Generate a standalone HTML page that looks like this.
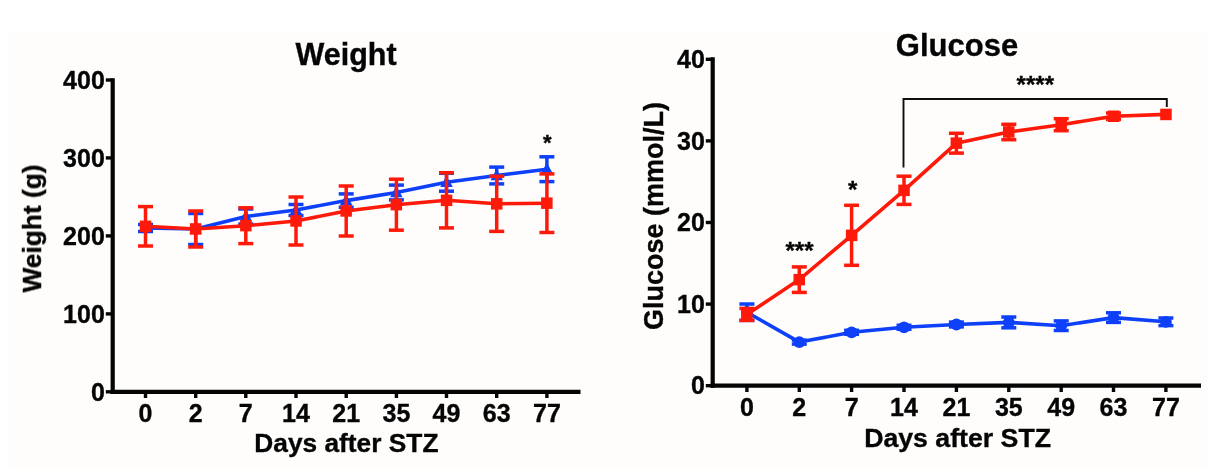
<!DOCTYPE html>
<html lang="en"><head><meta charset="utf-8"><title>Weight and Glucose after STZ</title>
<style>html,body{margin:0;padding:0;background:#fff;}body{width:1224px;height:470px;overflow:hidden;position:relative;}svg{position:absolute;left:0;top:0;display:block;}#ink{filter:blur(0.55px);}text{font-family:"Liberation Sans", Arial, Helvetica, sans-serif;font-weight:bold;fill:#050505;stroke:#050505;stroke-width:0.35px;}</style></head><body>
<svg width="1224" height="470" viewBox="0 0 1224 470">
<rect x="8" y="32" width="1200" height="438" fill="#fefdfb"/>
<g id="ink">
<g id="weight">
<line x1="112.7" y1="78.2" x2="112.7" y2="393.90000000000003" stroke="#050505" stroke-width="4.2"/>
<line x1="110.60000000000001" y1="391.8" x2="580.5" y2="391.8" stroke="#050505" stroke-width="4.2"/>
<line x1="105.8" y1="391.8" x2="112.7" y2="391.8" stroke="#050505" stroke-width="3.4"/>
<text x="104.8" y="400.5" font-size="25" text-anchor="end" >0</text>
<line x1="105.8" y1="313.9" x2="112.7" y2="313.9" stroke="#050505" stroke-width="3.4"/>
<text x="104.8" y="322.6" font-size="25" text-anchor="end" >100</text>
<line x1="105.8" y1="235.9" x2="112.7" y2="235.9" stroke="#050505" stroke-width="3.4"/>
<text x="104.8" y="244.6" font-size="25" text-anchor="end" >200</text>
<line x1="105.8" y1="157.9" x2="112.7" y2="157.9" stroke="#050505" stroke-width="3.4"/>
<text x="104.8" y="166.6" font-size="25" text-anchor="end" >300</text>
<line x1="105.8" y1="80.0" x2="112.7" y2="80.0" stroke="#050505" stroke-width="3.4"/>
<text x="104.8" y="88.7" font-size="25" text-anchor="end" >400</text>
<line x1="145.5" y1="391.8" x2="145.5" y2="398" stroke="#050505" stroke-width="3.4"/>
<text x="145.5" y="422" font-size="25" text-anchor="middle" >0</text>
<line x1="195.7" y1="391.8" x2="195.7" y2="398" stroke="#050505" stroke-width="3.4"/>
<text x="195.7" y="422" font-size="25" text-anchor="middle" >2</text>
<line x1="245.8" y1="391.8" x2="245.8" y2="398" stroke="#050505" stroke-width="3.4"/>
<text x="245.8" y="422" font-size="25" text-anchor="middle" >7</text>
<line x1="296.0" y1="391.8" x2="296.0" y2="398" stroke="#050505" stroke-width="3.4"/>
<text x="296.0" y="422" font-size="25" text-anchor="middle" >14</text>
<line x1="346.2" y1="391.8" x2="346.2" y2="398" stroke="#050505" stroke-width="3.4"/>
<text x="346.2" y="422" font-size="25" text-anchor="middle" >21</text>
<line x1="396.4" y1="391.8" x2="396.4" y2="398" stroke="#050505" stroke-width="3.4"/>
<text x="396.4" y="422" font-size="25" text-anchor="middle" >35</text>
<line x1="446.5" y1="391.8" x2="446.5" y2="398" stroke="#050505" stroke-width="3.4"/>
<text x="446.5" y="422" font-size="25" text-anchor="middle" >49</text>
<line x1="496.7" y1="391.8" x2="496.7" y2="398" stroke="#050505" stroke-width="3.4"/>
<text x="496.7" y="422" font-size="25" text-anchor="middle" >63</text>
<line x1="546.9" y1="391.8" x2="546.9" y2="398" stroke="#050505" stroke-width="3.4"/>
<text x="546.9" y="422" font-size="25" text-anchor="middle" >77</text>
<text x="346.4" y="452.4" font-size="26.3" text-anchor="middle" >Days after STZ</text>
<text x="346" y="65.3" font-size="30.5" text-anchor="middle" >Weight</text>
<text transform="translate(41,228.5) rotate(-90)" font-size="26.3" text-anchor="middle">Weight (g)</text>
<polyline points="145.5,228.0 195.7,229.0 245.8,216.5 296.0,210.0 346.2,200.6 396.4,192.5 446.5,182.2 496.7,175.5 546.9,169.2" fill="none" stroke="#0d40f8" stroke-width="3.6" stroke-linejoin="round" stroke-linecap="round"/>
<line x1="145.5" y1="224.5" x2="145.5" y2="231.5" stroke="#0d40f8" stroke-width="3.5"/><line x1="138.0" y1="224.5" x2="153.0" y2="224.5" stroke="#0d40f8" stroke-width="3.5"/><line x1="138.0" y1="231.5" x2="153.0" y2="231.5" stroke="#0d40f8" stroke-width="3.5"/>
<polygon points="145.5,221.5 139.2,232.7 151.8,232.7" fill="#0d40f8"/>
<line x1="195.7" y1="213.5" x2="195.7" y2="244.5" stroke="#0d40f8" stroke-width="3.5"/><line x1="188.2" y1="213.5" x2="203.2" y2="213.5" stroke="#0d40f8" stroke-width="3.5"/><line x1="188.2" y1="244.5" x2="203.2" y2="244.5" stroke="#0d40f8" stroke-width="3.5"/>
<polygon points="195.7,222.5 189.4,233.7 201.9,233.7" fill="#0d40f8"/>
<line x1="245.8" y1="209.0" x2="245.8" y2="224.0" stroke="#0d40f8" stroke-width="3.5"/><line x1="238.3" y1="209.0" x2="253.3" y2="209.0" stroke="#0d40f8" stroke-width="3.5"/><line x1="238.3" y1="224.0" x2="253.3" y2="224.0" stroke="#0d40f8" stroke-width="3.5"/>
<polygon points="245.8,210.0 239.6,221.2 252.1,221.2" fill="#0d40f8"/>
<line x1="296.0" y1="204.5" x2="296.0" y2="215.5" stroke="#0d40f8" stroke-width="3.5"/><line x1="288.5" y1="204.5" x2="303.5" y2="204.5" stroke="#0d40f8" stroke-width="3.5"/><line x1="288.5" y1="215.5" x2="303.5" y2="215.5" stroke="#0d40f8" stroke-width="3.5"/>
<polygon points="296.0,203.5 289.8,214.7 302.3,214.7" fill="#0d40f8"/>
<line x1="346.2" y1="193.9" x2="346.2" y2="207.3" stroke="#0d40f8" stroke-width="3.5"/><line x1="338.7" y1="193.9" x2="353.7" y2="193.9" stroke="#0d40f8" stroke-width="3.5"/><line x1="338.7" y1="207.3" x2="353.7" y2="207.3" stroke="#0d40f8" stroke-width="3.5"/>
<polygon points="346.2,194.1 339.9,205.3 352.4,205.3" fill="#0d40f8"/>
<line x1="396.4" y1="185.1" x2="396.4" y2="199.9" stroke="#0d40f8" stroke-width="3.5"/><line x1="388.9" y1="185.1" x2="403.9" y2="185.1" stroke="#0d40f8" stroke-width="3.5"/><line x1="388.9" y1="199.9" x2="403.9" y2="199.9" stroke="#0d40f8" stroke-width="3.5"/>
<polygon points="396.4,186.0 390.1,197.2 402.6,197.2" fill="#0d40f8"/>
<line x1="446.5" y1="173.2" x2="446.5" y2="191.2" stroke="#0d40f8" stroke-width="3.5"/><line x1="439.0" y1="173.2" x2="454.0" y2="173.2" stroke="#0d40f8" stroke-width="3.5"/><line x1="439.0" y1="191.2" x2="454.0" y2="191.2" stroke="#0d40f8" stroke-width="3.5"/>
<polygon points="446.5,175.7 440.3,186.9 452.8,186.9" fill="#0d40f8"/>
<line x1="496.7" y1="167.1" x2="496.7" y2="183.9" stroke="#0d40f8" stroke-width="3.5"/><line x1="489.2" y1="167.1" x2="504.2" y2="167.1" stroke="#0d40f8" stroke-width="3.5"/><line x1="489.2" y1="183.9" x2="504.2" y2="183.9" stroke="#0d40f8" stroke-width="3.5"/>
<polygon points="496.7,169.0 490.5,180.2 503.0,180.2" fill="#0d40f8"/>
<line x1="546.9" y1="156.8" x2="546.9" y2="181.6" stroke="#0d40f8" stroke-width="3.5"/><line x1="539.4" y1="156.8" x2="554.4" y2="156.8" stroke="#0d40f8" stroke-width="3.5"/><line x1="539.4" y1="181.6" x2="554.4" y2="181.6" stroke="#0d40f8" stroke-width="3.5"/>
<polygon points="546.9,162.7 540.6,173.9 553.1,173.9" fill="#0d40f8"/>
<polyline points="145.5,226.3 195.7,229.0 245.8,225.7 296.0,221.0 346.2,211.0 396.4,204.7 446.5,200.3 496.7,203.8 546.9,203.2" fill="none" stroke="#fe1a0a" stroke-width="3.6" stroke-linejoin="round" stroke-linecap="round"/>
<line x1="145.5" y1="206.6" x2="145.5" y2="246.0" stroke="#fe1a0a" stroke-width="3.5"/><line x1="138.0" y1="206.6" x2="153.0" y2="206.6" stroke="#fe1a0a" stroke-width="3.5"/><line x1="138.0" y1="246.0" x2="153.0" y2="246.0" stroke="#fe1a0a" stroke-width="3.5"/>
<rect x="139.8" y="220.6" width="11.5" height="11.5" fill="#fe1a0a"/>
<line x1="195.7" y1="211.0" x2="195.7" y2="247.0" stroke="#fe1a0a" stroke-width="3.5"/><line x1="188.2" y1="211.0" x2="203.2" y2="211.0" stroke="#fe1a0a" stroke-width="3.5"/><line x1="188.2" y1="247.0" x2="203.2" y2="247.0" stroke="#fe1a0a" stroke-width="3.5"/>
<rect x="189.9" y="223.2" width="11.5" height="11.5" fill="#fe1a0a"/>
<line x1="245.8" y1="207.8" x2="245.8" y2="243.6" stroke="#fe1a0a" stroke-width="3.5"/><line x1="238.3" y1="207.8" x2="253.3" y2="207.8" stroke="#fe1a0a" stroke-width="3.5"/><line x1="238.3" y1="243.6" x2="253.3" y2="243.6" stroke="#fe1a0a" stroke-width="3.5"/>
<rect x="240.1" y="219.9" width="11.5" height="11.5" fill="#fe1a0a"/>
<line x1="296.0" y1="197.0" x2="296.0" y2="245.0" stroke="#fe1a0a" stroke-width="3.5"/><line x1="288.5" y1="197.0" x2="303.5" y2="197.0" stroke="#fe1a0a" stroke-width="3.5"/><line x1="288.5" y1="245.0" x2="303.5" y2="245.0" stroke="#fe1a0a" stroke-width="3.5"/>
<rect x="290.3" y="215.2" width="11.5" height="11.5" fill="#fe1a0a"/>
<line x1="346.2" y1="186.0" x2="346.2" y2="236.0" stroke="#fe1a0a" stroke-width="3.5"/><line x1="338.7" y1="186.0" x2="353.7" y2="186.0" stroke="#fe1a0a" stroke-width="3.5"/><line x1="338.7" y1="236.0" x2="353.7" y2="236.0" stroke="#fe1a0a" stroke-width="3.5"/>
<rect x="340.4" y="205.2" width="11.5" height="11.5" fill="#fe1a0a"/>
<line x1="396.4" y1="179.2" x2="396.4" y2="230.2" stroke="#fe1a0a" stroke-width="3.5"/><line x1="388.9" y1="179.2" x2="403.9" y2="179.2" stroke="#fe1a0a" stroke-width="3.5"/><line x1="388.9" y1="230.2" x2="403.9" y2="230.2" stroke="#fe1a0a" stroke-width="3.5"/>
<rect x="390.6" y="198.9" width="11.5" height="11.5" fill="#fe1a0a"/>
<line x1="446.5" y1="172.7" x2="446.5" y2="227.9" stroke="#fe1a0a" stroke-width="3.5"/><line x1="439.0" y1="172.7" x2="454.0" y2="172.7" stroke="#fe1a0a" stroke-width="3.5"/><line x1="439.0" y1="227.9" x2="454.0" y2="227.9" stroke="#fe1a0a" stroke-width="3.5"/>
<rect x="440.8" y="194.6" width="11.5" height="11.5" fill="#fe1a0a"/>
<line x1="496.7" y1="176.2" x2="496.7" y2="231.4" stroke="#fe1a0a" stroke-width="3.5"/><line x1="489.2" y1="176.2" x2="504.2" y2="176.2" stroke="#fe1a0a" stroke-width="3.5"/><line x1="489.2" y1="231.4" x2="504.2" y2="231.4" stroke="#fe1a0a" stroke-width="3.5"/>
<rect x="491.0" y="198.1" width="11.5" height="11.5" fill="#fe1a0a"/>
<line x1="546.9" y1="173.9" x2="546.9" y2="232.5" stroke="#fe1a0a" stroke-width="3.5"/><line x1="539.4" y1="173.9" x2="554.4" y2="173.9" stroke="#fe1a0a" stroke-width="3.5"/><line x1="539.4" y1="232.5" x2="554.4" y2="232.5" stroke="#fe1a0a" stroke-width="3.5"/>
<rect x="541.1" y="197.4" width="11.5" height="11.5" fill="#fe1a0a"/>
<text x="547.2" y="150.3" font-size="22" text-anchor="middle" >*</text>
</g>
<g id="glucose">
<line x1="712.7" y1="57.3" x2="712.7" y2="387.8" stroke="#050505" stroke-width="4.2"/>
<line x1="710.6" y1="385.7" x2="1201" y2="385.7" stroke="#050505" stroke-width="4.2"/>
<line x1="705.8" y1="385.7" x2="712.7" y2="385.7" stroke="#050505" stroke-width="3.4"/>
<text x="704.8" y="394.4" font-size="25" text-anchor="end" >0</text>
<line x1="705.8" y1="304.1" x2="712.7" y2="304.1" stroke="#050505" stroke-width="3.4"/>
<text x="704.8" y="312.8" font-size="25" text-anchor="end" >10</text>
<line x1="705.8" y1="222.5" x2="712.7" y2="222.5" stroke="#050505" stroke-width="3.4"/>
<text x="704.8" y="231.2" font-size="25" text-anchor="end" >20</text>
<line x1="705.8" y1="140.9" x2="712.7" y2="140.9" stroke="#050505" stroke-width="3.4"/>
<text x="704.8" y="149.6" font-size="25" text-anchor="end" >30</text>
<line x1="705.8" y1="59.3" x2="712.7" y2="59.3" stroke="#050505" stroke-width="3.4"/>
<text x="704.8" y="68.0" font-size="25" text-anchor="end" >40</text>
<line x1="746.9" y1="385.7" x2="746.9" y2="392" stroke="#050505" stroke-width="3.4"/>
<text x="746.9" y="416.2" font-size="25" text-anchor="middle" >0</text>
<line x1="799.3" y1="385.7" x2="799.3" y2="392" stroke="#050505" stroke-width="3.4"/>
<text x="799.3" y="416.2" font-size="25" text-anchor="middle" >2</text>
<line x1="851.6" y1="385.7" x2="851.6" y2="392" stroke="#050505" stroke-width="3.4"/>
<text x="851.6" y="416.2" font-size="25" text-anchor="middle" >7</text>
<line x1="904.0" y1="385.7" x2="904.0" y2="392" stroke="#050505" stroke-width="3.4"/>
<text x="904.0" y="416.2" font-size="25" text-anchor="middle" >14</text>
<line x1="956.4" y1="385.7" x2="956.4" y2="392" stroke="#050505" stroke-width="3.4"/>
<text x="956.4" y="416.2" font-size="25" text-anchor="middle" >21</text>
<line x1="1008.8" y1="385.7" x2="1008.8" y2="392" stroke="#050505" stroke-width="3.4"/>
<text x="1008.8" y="416.2" font-size="25" text-anchor="middle" >35</text>
<line x1="1061.2" y1="385.7" x2="1061.2" y2="392" stroke="#050505" stroke-width="3.4"/>
<text x="1061.2" y="416.2" font-size="25" text-anchor="middle" >49</text>
<line x1="1113.5" y1="385.7" x2="1113.5" y2="392" stroke="#050505" stroke-width="3.4"/>
<text x="1113.5" y="416.2" font-size="25" text-anchor="middle" >63</text>
<line x1="1165.9" y1="385.7" x2="1165.9" y2="392" stroke="#050505" stroke-width="3.4"/>
<text x="1165.9" y="416.2" font-size="25" text-anchor="middle" >77</text>
<text x="957.6" y="447" font-size="26.7" text-anchor="middle" >Days after STZ</text>
<text x="957" y="56.3" font-size="31" text-anchor="middle" >Glucose</text>
<text transform="translate(662.5,216) rotate(-90)" font-size="27" text-anchor="middle">Glucose (mmol/L)</text>
<polyline points="746.9,312.2 799.3,342.1 851.6,332.3 904.0,327.3 956.4,324.5 1008.8,322.4 1061.2,325.7 1113.5,317.6 1165.9,321.8" fill="none" stroke="#0d40f8" stroke-width="3.6" stroke-linejoin="round" stroke-linecap="round"/>
<line x1="746.9" y1="304.0" x2="746.9" y2="320.4" stroke="#0d40f8" stroke-width="3.5"/><line x1="739.4" y1="304.0" x2="754.4" y2="304.0" stroke="#0d40f8" stroke-width="3.5"/><line x1="739.4" y1="320.4" x2="754.4" y2="320.4" stroke="#0d40f8" stroke-width="3.5"/>
<circle cx="746.9" cy="312.2" r="5.9" fill="#0d40f8"/>
<line x1="799.3" y1="340.1" x2="799.3" y2="344.1" stroke="#0d40f8" stroke-width="3.5"/><line x1="791.8" y1="340.1" x2="806.8" y2="340.1" stroke="#0d40f8" stroke-width="3.5"/><line x1="791.8" y1="344.1" x2="806.8" y2="344.1" stroke="#0d40f8" stroke-width="3.5"/>
<circle cx="799.3" cy="342.1" r="5.9" fill="#0d40f8"/>
<line x1="851.6" y1="330.3" x2="851.6" y2="334.3" stroke="#0d40f8" stroke-width="3.5"/><line x1="844.1" y1="330.3" x2="859.1" y2="330.3" stroke="#0d40f8" stroke-width="3.5"/><line x1="844.1" y1="334.3" x2="859.1" y2="334.3" stroke="#0d40f8" stroke-width="3.5"/>
<circle cx="851.6" cy="332.3" r="5.9" fill="#0d40f8"/>
<line x1="904.0" y1="325.3" x2="904.0" y2="329.3" stroke="#0d40f8" stroke-width="3.5"/><line x1="896.5" y1="325.3" x2="911.5" y2="325.3" stroke="#0d40f8" stroke-width="3.5"/><line x1="896.5" y1="329.3" x2="911.5" y2="329.3" stroke="#0d40f8" stroke-width="3.5"/>
<circle cx="904.0" cy="327.3" r="5.9" fill="#0d40f8"/>
<line x1="956.4" y1="322.1" x2="956.4" y2="326.9" stroke="#0d40f8" stroke-width="3.5"/><line x1="948.9" y1="322.1" x2="963.9" y2="322.1" stroke="#0d40f8" stroke-width="3.5"/><line x1="948.9" y1="326.9" x2="963.9" y2="326.9" stroke="#0d40f8" stroke-width="3.5"/>
<circle cx="956.4" cy="324.5" r="5.9" fill="#0d40f8"/>
<line x1="1008.8" y1="317.0" x2="1008.8" y2="327.8" stroke="#0d40f8" stroke-width="3.5"/><line x1="1001.3" y1="317.0" x2="1016.3" y2="317.0" stroke="#0d40f8" stroke-width="3.5"/><line x1="1001.3" y1="327.8" x2="1016.3" y2="327.8" stroke="#0d40f8" stroke-width="3.5"/>
<circle cx="1008.8" cy="322.4" r="5.9" fill="#0d40f8"/>
<line x1="1061.2" y1="320.9" x2="1061.2" y2="330.5" stroke="#0d40f8" stroke-width="3.5"/><line x1="1053.7" y1="320.9" x2="1068.7" y2="320.9" stroke="#0d40f8" stroke-width="3.5"/><line x1="1053.7" y1="330.5" x2="1068.7" y2="330.5" stroke="#0d40f8" stroke-width="3.5"/>
<circle cx="1061.2" cy="325.7" r="5.9" fill="#0d40f8"/>
<line x1="1113.5" y1="312.8" x2="1113.5" y2="322.4" stroke="#0d40f8" stroke-width="3.5"/><line x1="1106.0" y1="312.8" x2="1121.0" y2="312.8" stroke="#0d40f8" stroke-width="3.5"/><line x1="1106.0" y1="322.4" x2="1121.0" y2="322.4" stroke="#0d40f8" stroke-width="3.5"/>
<circle cx="1113.5" cy="317.6" r="5.9" fill="#0d40f8"/>
<line x1="1165.9" y1="318.0" x2="1165.9" y2="325.6" stroke="#0d40f8" stroke-width="3.5"/><line x1="1158.4" y1="318.0" x2="1173.4" y2="318.0" stroke="#0d40f8" stroke-width="3.5"/><line x1="1158.4" y1="325.6" x2="1173.4" y2="325.6" stroke="#0d40f8" stroke-width="3.5"/>
<circle cx="1165.9" cy="321.8" r="5.9" fill="#0d40f8"/>
<polyline points="746.9,314.4 799.3,279.6 851.6,235.3 904.0,190.3 956.4,143.2 1008.8,132.0 1061.2,124.7 1113.5,116.2 1165.9,114.4" fill="none" stroke="#fe1a0a" stroke-width="3.6" stroke-linejoin="round" stroke-linecap="round"/>
<line x1="746.9" y1="308.4" x2="746.9" y2="320.4" stroke="#fe1a0a" stroke-width="3.5"/><line x1="739.4" y1="308.4" x2="754.4" y2="308.4" stroke="#fe1a0a" stroke-width="3.5"/><line x1="739.4" y1="320.4" x2="754.4" y2="320.4" stroke="#fe1a0a" stroke-width="3.5"/>
<rect x="741.1" y="308.6" width="11.5" height="11.5" fill="#fe1a0a"/>
<line x1="799.3" y1="266.9" x2="799.3" y2="292.4" stroke="#fe1a0a" stroke-width="3.5"/><line x1="791.8" y1="266.9" x2="806.8" y2="266.9" stroke="#fe1a0a" stroke-width="3.5"/><line x1="791.8" y1="292.4" x2="806.8" y2="292.4" stroke="#fe1a0a" stroke-width="3.5"/>
<rect x="793.5" y="273.9" width="11.5" height="11.5" fill="#fe1a0a"/>
<line x1="851.6" y1="205.3" x2="851.6" y2="265.3" stroke="#fe1a0a" stroke-width="3.5"/><line x1="844.1" y1="205.3" x2="859.1" y2="205.3" stroke="#fe1a0a" stroke-width="3.5"/><line x1="844.1" y1="265.3" x2="859.1" y2="265.3" stroke="#fe1a0a" stroke-width="3.5"/>
<rect x="845.9" y="229.6" width="11.5" height="11.5" fill="#fe1a0a"/>
<line x1="904.0" y1="176.2" x2="904.0" y2="204.4" stroke="#fe1a0a" stroke-width="3.5"/><line x1="896.5" y1="176.2" x2="911.5" y2="176.2" stroke="#fe1a0a" stroke-width="3.5"/><line x1="896.5" y1="204.4" x2="911.5" y2="204.4" stroke="#fe1a0a" stroke-width="3.5"/>
<rect x="898.3" y="184.6" width="11.5" height="11.5" fill="#fe1a0a"/>
<line x1="956.4" y1="133.3" x2="956.4" y2="153.1" stroke="#fe1a0a" stroke-width="3.5"/><line x1="948.9" y1="133.3" x2="963.9" y2="133.3" stroke="#fe1a0a" stroke-width="3.5"/><line x1="948.9" y1="153.1" x2="963.9" y2="153.1" stroke="#fe1a0a" stroke-width="3.5"/>
<rect x="950.6" y="137.4" width="11.5" height="11.5" fill="#fe1a0a"/>
<line x1="1008.8" y1="124.3" x2="1008.8" y2="139.7" stroke="#fe1a0a" stroke-width="3.5"/><line x1="1001.3" y1="124.3" x2="1016.3" y2="124.3" stroke="#fe1a0a" stroke-width="3.5"/><line x1="1001.3" y1="139.7" x2="1016.3" y2="139.7" stroke="#fe1a0a" stroke-width="3.5"/>
<rect x="1003.0" y="126.2" width="11.5" height="11.5" fill="#fe1a0a"/>
<line x1="1061.2" y1="118.7" x2="1061.2" y2="130.7" stroke="#fe1a0a" stroke-width="3.5"/><line x1="1053.7" y1="118.7" x2="1068.7" y2="118.7" stroke="#fe1a0a" stroke-width="3.5"/><line x1="1053.7" y1="130.7" x2="1068.7" y2="130.7" stroke="#fe1a0a" stroke-width="3.5"/>
<rect x="1055.4" y="119.0" width="11.5" height="11.5" fill="#fe1a0a"/>
<line x1="1113.5" y1="113.0" x2="1113.5" y2="119.4" stroke="#fe1a0a" stroke-width="3.5"/><line x1="1106.0" y1="113.0" x2="1121.0" y2="113.0" stroke="#fe1a0a" stroke-width="3.5"/><line x1="1106.0" y1="119.4" x2="1121.0" y2="119.4" stroke="#fe1a0a" stroke-width="3.5"/>
<rect x="1107.8" y="110.5" width="11.5" height="11.5" fill="#fe1a0a"/>

<rect x="1160.2" y="108.7" width="11.5" height="11.5" fill="#fe1a0a"/>
<text x="799.5" y="258.5" font-size="24" text-anchor="middle" >***</text>
<text x="852.7" y="197.5" font-size="24" text-anchor="middle" >*</text>
<text x="1035.3" y="93.2" font-size="24" text-anchor="middle" >****</text>
<polyline points="903.5,167.5 903.5,99 1166.8,99 1166.8,107" fill="none" stroke="#0e0e0e" stroke-width="1.9"/>
</g>
</g>
</svg></body></html>
